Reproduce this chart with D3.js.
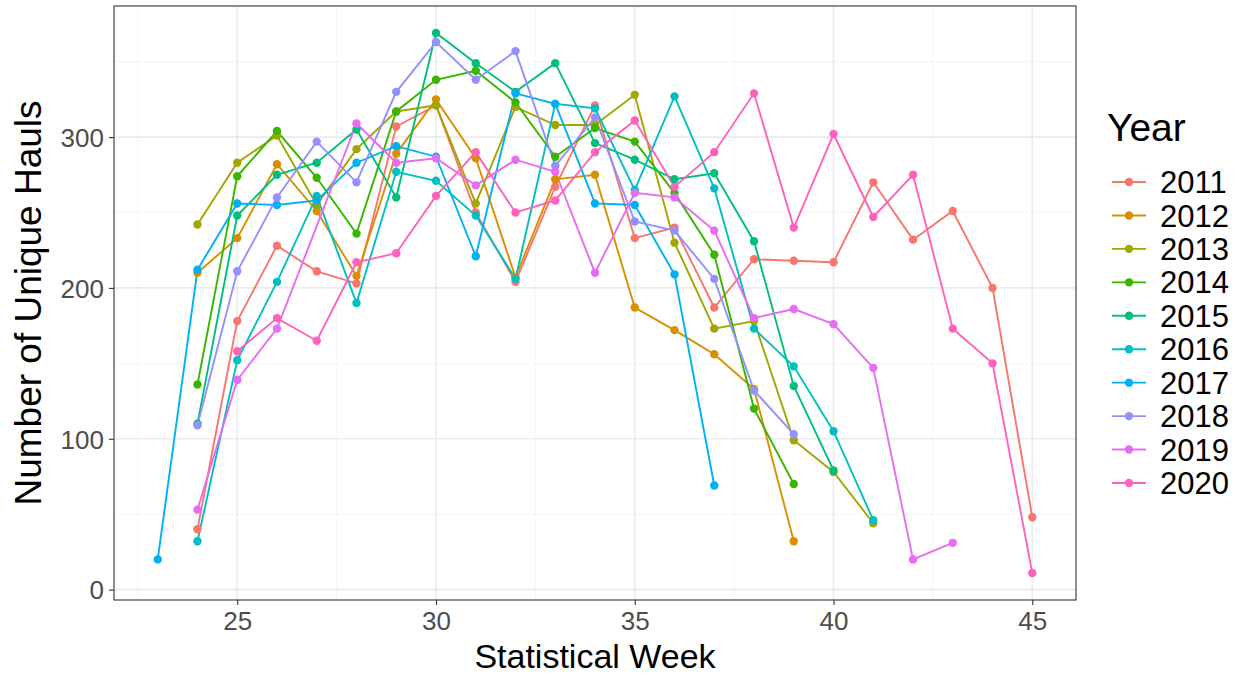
<!DOCTYPE html>
<html>
<head>
<meta charset="utf-8">
<script src="https://cdn.jsdelivr.net/npm/d3@7"></script>
<style>
  html, body { margin: 0; padding: 0; background: #fff; }
  svg { display: block; font-family: "Liberation Sans", Arial, sans-serif; }
</style>
</head>
<body>
<svg id="chart" width="1239" height="676"></svg>
<script>
const years = ["2011","2012","2013","2014","2015","2016","2017","2018","2019","2020"];
const colors = ["#F8766D","#D89000","#A3A500","#39B600","#00BF7D","#00BFC4","#00B0F6","#9590FF","#E76BF3","#FF62BC"];
const xTicks = [25, 30, 35, 40, 45];
const yTicks = [0, 100, 200, 300];

// [week, hauls]
const s2011 = [[24,40],[25,178],[26,228],[27,211],[28,203],[29,307],[30,321],[31,250],[32,204],[33,267],[34,321],[35,233],[36,240],[37,187],[38,219],[39,218],[40,217],[41,270],[42,232],[43,251],[44,200],[45,48]];
const s2012 = [[24,210],[25,233],[26,282],[27,251],[28,208],[29,289],[30,325],[31,286],[32,207],[33,272],[34,275],[35,187],[36,172],[37,156],[38,133],[39,32]];
const s2013 = [[24,242],[25,283],[26,301],[27,255],[28,292],[29,317],[30,321],[31,256],[32,320],[33,308],[34,308],[35,328],[36,230],[37,173],[38,178],[39,99],[40,78],[41,44]];
const s2014 = [[24,136],[25,274],[26,304],[27,273],[28,236],[29,317],[30,338],[31,344],[32,323],[33,287],[34,306],[35,297],[36,263],[37,222],[38,120],[39,70]];
const s2015 = [[24,110],[25,248],[26,275],[27,283],[28,305],[29,260],[30,369],[31,349],[32,330],[33,349],[34,296],[35,285],[36,272],[37,276],[38,231],[39,135],[40,79]];
const s2016 = [[24,32],[25,152],[26,204],[27,261],[28,190],[29,277],[30,271],[31,248],[32,206],[33,322],[34,319],[35,265],[36,327],[37,266],[38,173],[39,148],[40,105],[41,46]];
const s2017 = [[23,20],[24,212],[25,256],[26,255],[27,258],[28,283],[29,294],[30,287],[31,221],[32,329],[33,322],[34,256],[35,255],[36,209],[37,69]];
const s2018 = [[24,109],[25,211],[26,260],[27,297],[28,270],[29,330],[30,363],[31,338],[32,357],[33,281],[34,313],[35,244],[36,238],[37,206],[38,132],[39,103]];
const s2019 = [[24,53],[25,139],[26,173],[28,309],[29,283],[30,286],[31,268],[32,285],[33,277],[34,210],[35,263],[36,260],[37,238],[38,180],[39,186],[40,176],[41,147],[42,20],[43,31]];
const s2020 = [[25,158],[26,180],[27,165],[28,217],[29,223],[30,261],[31,290],[32,250],[33,258],[34,290],[35,311],[36,267],[37,290],[38,329],[39,240],[40,302],[41,247],[42,275],[43,173],[44,150],[45,11]];
const seriesData = [s2011,s2012,s2013,s2014,s2015,s2016,s2017,s2018,s2019,s2020];

const svg = d3.select("#chart");
const panel = {left: 114, right: 1076, top: 6, bottom: 600};

const x = d3.scaleLinear().domain([21.9, 46.1]).range([panel.left, panel.right]);
const y = d3.scaleLinear().domain([-6.9, 386.9]).range([panel.bottom, panel.top]);

svg.append("rect").attr("x", panel.left).attr("y", panel.top)
  .attr("width", panel.right - panel.left).attr("height", panel.bottom - panel.top)
  .attr("fill", "#fff");

const grid = svg.append("g");
const xMinor = [22.5, 27.5, 32.5, 37.5, 42.5];
const yMinor = [50, 150, 250, 350];
grid.selectAll(".xmin").data(xMinor).join("line")
  .attr("x1", d => x(d)).attr("x2", d => x(d)).attr("y1", panel.top).attr("y2", panel.bottom)
  .attr("stroke", "#F3F3F3").attr("stroke-width", 0.8);
grid.selectAll(".ymin").data(yMinor).join("line")
  .attr("y1", d => y(d)).attr("y2", d => y(d)).attr("x1", panel.left).attr("x2", panel.right)
  .attr("stroke", "#F3F3F3").attr("stroke-width", 0.8);
grid.selectAll(".xmaj").data(xTicks).join("line")
  .attr("x1", d => x(d)).attr("x2", d => x(d)).attr("y1", panel.top).attr("y2", panel.bottom)
  .attr("stroke", "#EBEBEB").attr("stroke-width", 1.6);
grid.selectAll(".ymaj").data(yTicks).join("line")
  .attr("y1", d => y(d)).attr("y2", d => y(d)).attr("x1", panel.left).attr("x2", panel.right)
  .attr("stroke", "#EBEBEB").attr("stroke-width", 1.6);

const line = d3.line().x(d => x(d[0])).y(d => y(d[1]));
seriesData.forEach((s, i) => {
  svg.append("path").datum(s).attr("d", line).attr("fill", "none")
    .attr("stroke", colors[i]).attr("stroke-width", 1.9);
});
seriesData.forEach((s, i) => {
  svg.append("g").selectAll("circle").data(s).join("circle")
    .attr("cx", d => x(d[0])).attr("cy", d => y(d[1])).attr("r", 4.2)
    .attr("fill", colors[i]);
});

svg.append("rect").attr("x", panel.left).attr("y", panel.top)
  .attr("width", panel.right - panel.left).attr("height", panel.bottom - panel.top)
  .attr("fill", "none").attr("stroke", "#333333").attr("stroke-width", 1.1);

const xAxis = svg.append("g").attr("transform", `translate(0,${panel.bottom})`)
  .call(d3.axisBottom(x).tickValues(xTicks).tickSize(5).tickPadding(3));
const yAxis = svg.append("g").attr("transform", `translate(${panel.left},0)`)
  .call(d3.axisLeft(y).tickValues(yTicks).tickSize(5).tickPadding(5));
[xAxis, yAxis].forEach(a => {
  a.select(".domain").remove();
  a.selectAll(".tick line").attr("stroke", "#333333").attr("stroke-width", 1.1);
  a.selectAll(".tick text").attr("fill", "#4D4D4D").style("font-size", "26px")
    .style("font-family", '"Liberation Sans", Arial, sans-serif');
});
xAxis.selectAll(".tick text").attr("dy", "0.85em");
yAxis.selectAll(".tick text").attr("dy", "0.36em");

svg.append("text").attr("x", (panel.left + panel.right) / 2).attr("y", 668)
  .attr("text-anchor", "middle").style("font-size", "34px").attr("fill", "#000")
  .text("Statistical Week");
svg.append("text").attr("transform", `translate(41,${(panel.top + panel.bottom) / 2}) rotate(-90)`)
  .attr("text-anchor", "middle").style("font-size", "37px").attr("fill", "#000")
  .text("Number of Unique Hauls");

const legend = svg.append("g");
legend.append("text").attr("x", 1107).attr("y", 141).style("font-size", "39px").attr("fill", "#000").text("Year");
const ly = d3.scalePoint().domain(years).range([182, 483]);
years.forEach((yr, i) => {
  const gy = ly(yr);
  legend.append("line").attr("x1", 1112).attr("x2", 1146).attr("y1", gy).attr("y2", gy)
    .attr("stroke", colors[i]).attr("stroke-width", 1.9);
  legend.append("circle").attr("cx", 1129).attr("cy", gy).attr("r", 4.2).attr("fill", colors[i]);
  legend.append("text").attr("x", 1160).attr("y", gy).attr("dy", "0.36em")
    .style("font-size", "31px").attr("fill", "#000").text(yr);
});
</script>
</body>
</html>
